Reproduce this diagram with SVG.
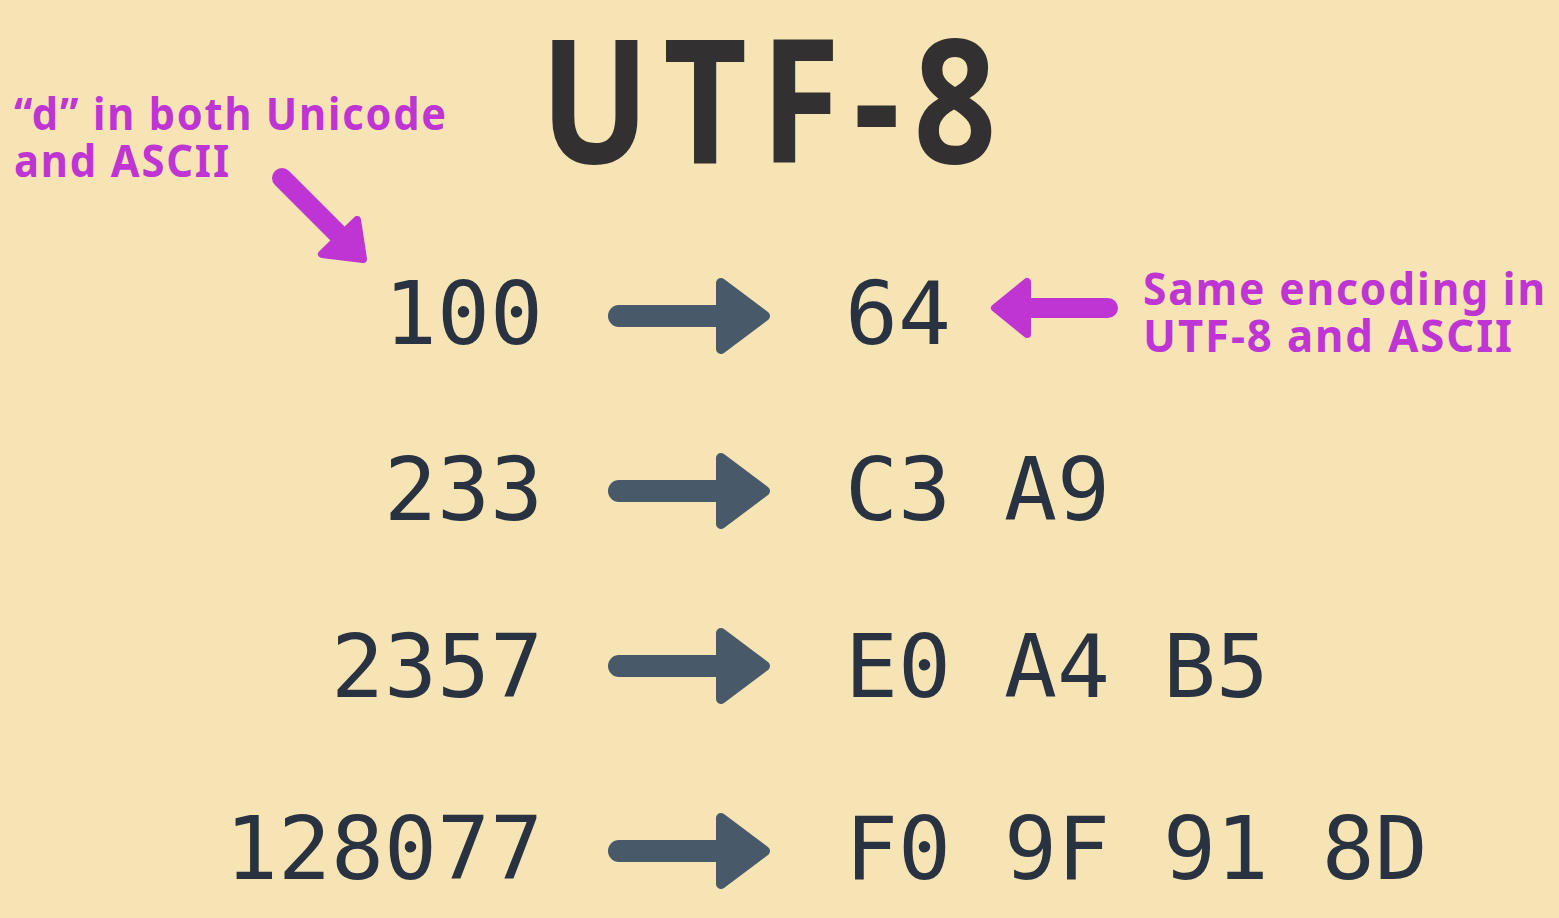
<svg xmlns="http://www.w3.org/2000/svg" width="1559" height="918" viewBox="0 0 1559 918">
<style>
.title{font-family:"Noto Sans","DejaVu Sans",sans-serif;font-weight:700;font-size:172px;letter-spacing:16px;fill:#333031}
.num{font-family:"DejaVu Sans Mono","Liberation Mono",monospace;font-size:88px;fill:#283241}
.note{font-family:"Noto Sans","DejaVu Sans",sans-serif;font-weight:700;font-size:45px;letter-spacing:2px;fill:#bf35d4}
.shaft{stroke:#48596a;stroke-width:22;stroke-linecap:round;fill:none}
.head{fill:#48596a;stroke:#48596a;stroke-width:10;stroke-linejoin:round}
.pshaft{stroke:#bf35d4;stroke-width:20;stroke-linecap:round;fill:none}
.phead{fill:#bf35d4;stroke:#bf35d4;stroke-width:8;stroke-linejoin:round}
</style>
<rect width="1559" height="918" fill="#f7e4b5"/>
<g id="title"><text class="title" x="540" y="163" textLength="470" lengthAdjust="spacingAndGlyphs">UTF-8</text></g>
<g id="note-left"><text class="note" x="14" y="130" textLength="434" lengthAdjust="spacingAndGlyphs">“d” in both Unicode</text><text class="note" x="14" y="177" textLength="217" lengthAdjust="spacingAndGlyphs">and ASCII</text></g>
<g id="note-right"><text class="note" x="1143" y="305" textLength="404" lengthAdjust="spacingAndGlyphs">Same encoding in</text><text class="note" x="1143" y="352" textLength="371" lengthAdjust="spacingAndGlyphs">UTF-8 and ASCII</text></g>
<g id="row1"><text class="num" x="543" y="344" text-anchor="end">100</text><text class="num" x="845" y="344">64</text></g>
<g id="row2"><text class="num" x="543" y="520" text-anchor="end">233</text><text class="num" x="845" y="520">C3 A9</text></g>
<g id="row3"><text class="num" x="543" y="697" text-anchor="end">2357</text><text class="num" x="845" y="697">E0 A4 B5</text></g>
<g id="row4"><text class="num" x="543" y="879" text-anchor="end">128077</text><text class="num" x="845" y="879">F0 9F 91 8D</text></g>
<g id="connectors">
<line class="shaft" x1="619" y1="316" x2="725" y2="316"/><polygon class="head" points="721,283 765,316 721,349"/>
<line class="shaft" x1="619" y1="491" x2="725" y2="491"/><polygon class="head" points="721,458 765,491 721,524"/>
<line class="shaft" x1="619" y1="666" x2="725" y2="666"/><polygon class="head" points="721,633 765,666 721,699"/>
<line class="shaft" x1="619" y1="851" x2="725" y2="851"/><polygon class="head" points="721,818 765,851 721,884"/>
<line class="pshaft" x1="282" y1="178" x2="338" y2="234"/><polygon class="phead" points="357,220 322,254 363,259"/>
<line class="pshaft" x1="1108" y1="308" x2="1025" y2="308"/><polygon class="phead" points="995,308 1027,282 1027,334"/>
</g>
</svg>
